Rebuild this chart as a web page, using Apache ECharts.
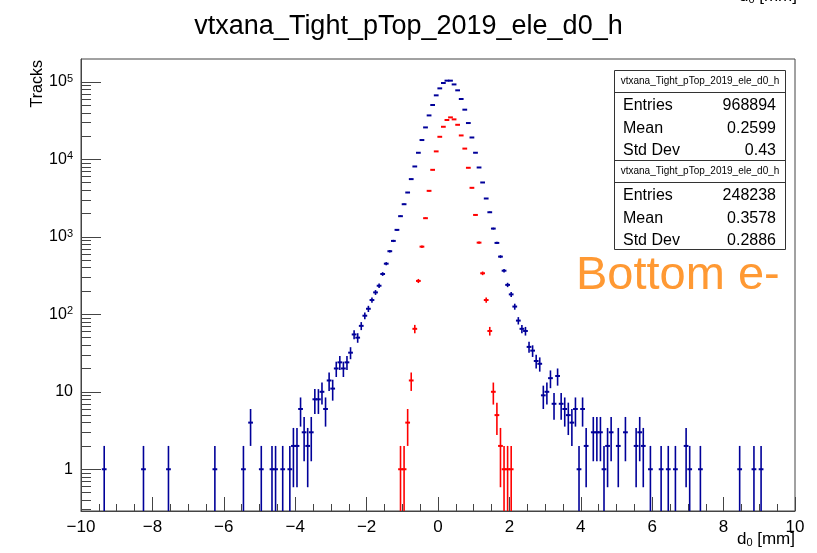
<!DOCTYPE html>
<html>
<head>
<meta charset="utf-8">
<script src="https://cdn.jsdelivr.net/npm/echarts@6/dist/echarts.min.js"></script>
<style>
  html, body { margin: 0; padding: 0; background: #fff; }
  #chart { width: 817px; height: 553px; }
</style>
</head>
<body>
<div id="chart"></div>
<script>
// bin centres (width 0.1) and counts, only non-empty bins
const blueX = [-9.35, -8.25, -7.55, -6.25, -5.45, -5.25, -4.95, -4.65, -4.55, -4.35, -4.15, -4.05, -3.95, -3.85, -3.75, -3.65, -3.55, -3.45, -3.35, -3.25, -3.15, -3.05, -2.95, -2.85, -2.75, -2.65, -2.55, -2.45, -2.35, -2.25, -2.15, -2.05, -1.95, -1.85, -1.75, -1.65, -1.55, -1.45, -1.35, -1.25, -1.15, -1.05, -0.95, -0.85, -0.75, -0.65, -0.55, -0.45, -0.35, -0.25, -0.15, -0.05, 0.05, 0.15, 0.25, 0.35, 0.45, 0.55, 0.65, 0.75, 0.85, 0.95, 1.05, 1.15, 1.25, 1.35, 1.45, 1.55, 1.65, 1.75, 1.85, 1.95, 2.05, 2.15, 2.25, 2.35, 2.45, 2.55, 2.65, 2.75, 2.85, 2.95, 3.05, 3.15, 3.25, 3.35, 3.45, 3.55, 3.65, 3.75, 3.85, 3.95, 4.05, 4.15, 4.35, 4.45, 4.55, 4.65, 4.75, 4.85, 5.05, 5.25, 5.55, 5.65, 5.75, 5.95, 6.25, 6.45, 6.65, 6.95, 7.05, 7.35, 8.45, 8.85, 9.05];
const blueN = [1, 1, 1, 1, 1, 4, 1, 1, 1, 1, 1, 2, 2, 6, 3, 2, 3, 8, 8, 10, 6, 14, 11, 20, 24, 20, 24, 32, 55, 50, 71, 96, 118, 153, 192, 234, 332, 451, 653, 887, 1232, 1850, 2640, 3740, 5570, 8110, 12190, 17800, 25900, 37000, 50400, 67200, 82700, 97000, 104000, 104000, 93000, 78000, 60300, 43900, 29500, 19200, 12200, 7870, 5040, 3130, 2080, 1280, 836, 556, 366, 240, 181, 126, 83, 65, 61, 38, 34, 25, 23, 9, 10, 15, 7, 16, 7, 6, 5, 4, 6, 1, 6, 2, 3, 3, 3, 1, 2, 3, 2, 3, 2, 3, 2, 1, 1, 1, 1, 2, 1, 1, 1, 1, 1];

const redX = [-1.05, -0.95, -0.85, -0.75, -0.65, -0.55, -0.45, -0.35, -0.25, -0.15, -0.05, 0.05, 0.15, 0.25, 0.35, 0.45, 0.55, 0.65, 0.75, 0.85, 0.95, 1.05, 1.15, 1.25, 1.35, 1.45, 1.55, 1.65, 1.75, 1.85, 1.95, 2.05];
const redN = [1, 1, 4, 14, 65, 270, 748, 1743, 3930, 7340, 12700, 19600, 26400, 32300, 34900, 32900, 28000, 20400, 13800, 7800, 4300, 1920, 843, 339, 153, 61, 10, 5, 2, 1, 1, 1];

const statTitle = 'vtxana_Tight_pTop_2019_ele_d0_h';
const statNames = ['Entries', 'Mean', 'Std Dev'];
const blueStats = ['968894', '0.2599', '0.43'];
const redStats = ['248238', '0.3578', '0.2886'];

const yMajor = [1, 10, 100, 1e3, 1e4, 1e5];
const yMinor = [0.3, 0.4, 0.5, 0.6, 0.7, 0.8, 0.9];
[1, 10, 100, 1e3, 1e4].forEach(d => { for (let k = 2; k <= 9; k++) yMinor.push(k * d); });

const Y_MIN = 0.289, Y_MAX = 1.98e5;
const HALF_BIN = 0.05;
const FONT = 'Liberation Sans';

function errBars(color) {
  return function (params, api) {
    const x = api.value(0), n = api.value(1), e = Math.sqrt(n);
    const lo = api.coord([x, Math.max(n - e, Y_MIN)]);
    const hi = api.coord([x, Math.min(n + e, Y_MAX)]);
    const l = api.coord([x - HALF_BIN, n]);
    const r = api.coord([x + HALF_BIN, n]);
    return {
      type: 'group',
      children: [
        { type: 'line', shape: { x1: lo[0], y1: lo[1], x2: hi[0], y2: hi[1] }, style: { stroke: color, lineWidth: 1.6 } },
        { type: 'line', shape: { x1: l[0] - 0.6, y1: l[1], x2: r[0] + 0.6, y2: r[1] }, style: { stroke: color, lineWidth: 2 } }
      ]
    };
  };
}

function statBlock(top, vals) {
  const out = [
    { type: 'text', style: { x: 700, y: top + 11.5, text: statTitle, font: '10px ' + FONT, fill: '#000', align: 'center', verticalAlign: 'middle' } },
    { type: 'line', shape: { x1: 614, y1: top + 22.5, x2: 786, y2: top + 22.5 }, style: { stroke: '#333', lineWidth: 1 } }
  ];
  statNames.forEach((nm, i) => {
    const y = top + 35.5 + i * 22.6;
    out.push({ type: 'text', style: { x: 623, y: y, text: nm, font: '16px ' + FONT, fill: '#000', align: 'left', verticalAlign: 'middle' } });
    out.push({ type: 'text', style: { x: 776, y: y, text: vals[i], font: '16px ' + FONT, fill: '#000', align: 'right', verticalAlign: 'middle' } });
  });
  return out;
}

const chart = echarts.init(document.getElementById('chart'), null, { renderer: 'canvas' });

const axisCol = '#444';
const supLabel = v => {
  if (v === 1) return '1';
  if (v === 10) return '10';
  return '10{sup|' + Math.round(Math.log10(v)) + '}';
};
const xTitleRich = { sub: { fontSize: 11, verticalAlign: 'bottom', fill: '#000' } };

chart.setOption({
  animation: false,
  backgroundColor: '#fff',
  textStyle: { fontFamily: FONT },
  title: {
    text: 'vtxana_Tight_pTop_2019_ele_d0_h',
    left: 'center', top: 8,
    textStyle: { fontFamily: FONT, fontSize: 27, fontWeight: 'normal', color: '#000' }
  },
  grid: { left: 81, right: 22, top: 59, bottom: 42, show: true, borderColor: axisCol, borderWidth: 1, backgroundColor: 'transparent' },
  xAxis: {
    type: 'value', min: -10, max: 10, interval: 2,
    axisLine: { onZero: false, lineStyle: { color: axisCol } },
    axisTick: { inside: true, length: 14, lineStyle: { color: axisCol } },
    minorTick: { show: true, splitNumber: 4, length: 7, lineStyle: { color: axisCol } },
    splitLine: { show: false },
    axisLabel: { color: '#000', fontSize: 17, margin: 8, formatter: v => (v < 0 ? '\u2212' + Math.abs(v) : String(v)) }
  },
  yAxis: [{
    type: 'log', logBase: 10, min: Y_MIN, max: Y_MAX, position: 'left',
    axisLine: { show: true, onZero: false, lineStyle: { color: axisCol } },
    axisTick: { show: true, inside: true, length: 20, customValues: yMajor, lineStyle: { color: axisCol } },
    splitLine: { show: false },
    axisLabel: {
      customValues: yMajor, color: '#000', fontSize: 16, margin: 8, formatter: supLabel,
      rich: { sup: { fontSize: 11, verticalAlign: 'top', color: '#000', padding: [0, 0, 6, 0] } }
    }
  }, {
    type: 'log', logBase: 10, min: Y_MIN, max: Y_MAX, position: 'left',
    axisLine: { show: false, onZero: false },
    axisTick: { show: true, inside: true, length: 10, customValues: yMinor, lineStyle: { color: axisCol } },
    splitLine: { show: false },
    axisLabel: { show: false }
  }],
  series: [
    { type: 'custom', name: 'all', renderItem: errBars('#000099'), clip: true, data: blueX.map((x, i) => [x, blueN[i]]) },
    { type: 'custom', name: 'sel', renderItem: errBars('#ff0000'), clip: true, data: redX.map((x, i) => [x, redN[i]]) }
  ],
  graphic: [
    { type: 'rect', shape: { x: 614.5, y: 70.5, width: 171, height: 179 }, style: { fill: '#fff', stroke: '#333', lineWidth: 1 } },
    ...statBlock(70, blueStats),
    { type: 'line', shape: { x1: 614, y1: 160.5, x2: 786, y2: 160.5 }, style: { stroke: '#333', lineWidth: 1 } },
    ...statBlock(160, redStats),
    { type: 'text', style: { x: 576, y: 276, text: 'Bottom e-', font: '47px ' + FONT, fill: '#ff9933', align: 'left', verticalAlign: 'middle' } },
    { type: 'text', rotation: Math.PI / 2, x: 38, y: 60, style: { x: 0, y: 0, text: 'Tracks', font: '16px ' + FONT, fill: '#000', align: 'right', verticalAlign: 'middle' } },
    { type: 'text', style: { x: 795, y: 548, text: 'd{sub|0} [mm]', font: '17px ' + FONT, fill: '#000', align: 'right', verticalAlign: 'bottom', rich: xTitleRich } },
    // clipped copy of the axis title peeking in at the top edge, as in the source image
    { type: 'text', style: { x: 797, y: 5, text: 'd{sub|0} [mm]', font: '17px ' + FONT, fill: '#000', align: 'right', verticalAlign: 'bottom', rich: xTitleRich } }
  ]
});
</script>
</body>
</html>
